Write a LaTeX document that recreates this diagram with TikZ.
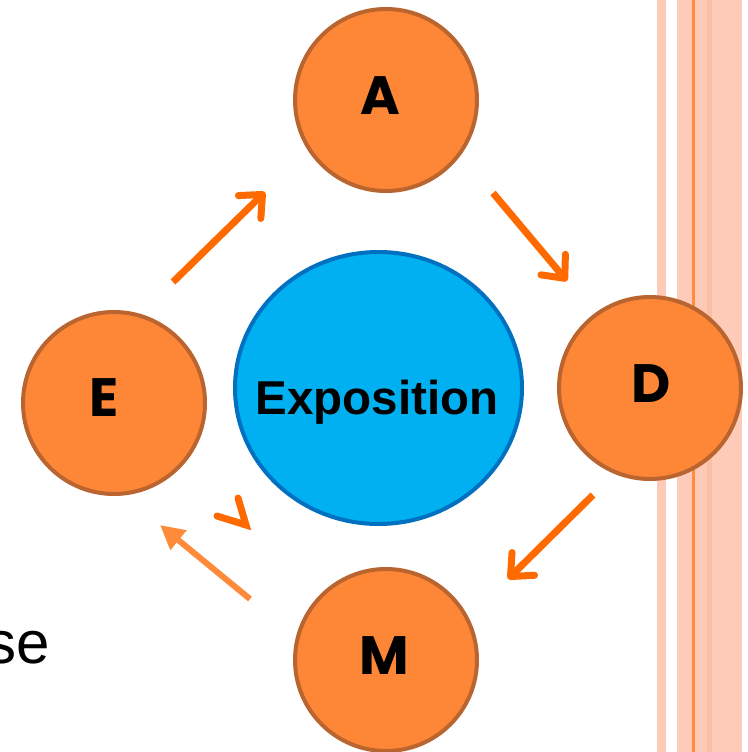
\documentclass[tikz,border=0pt]{standalone}
\usepackage{fontspec}
\setmainfont{Liberation Sans}
\newfontfamily\letterfont{Poppins}
\usetikzlibrary{arrows.meta,shapes.geometric}
\definecolor{orfill}{HTML}{FD8737}
\definecolor{ordraw}{HTML}{BA6430}
\definecolor{blfill}{HTML}{00B0F0}
\definecolor{bldraw}{HTML}{0070C0}
\definecolor{arr}{HTML}{FF6A00}
\definecolor{arrlight}{HTML}{FF8A3A}
\definecolor{stripe}{HTML}{FDCBB8}
\definecolor{stripedark}{HTML}{FBBFA8}
\definecolor{stripeline}{HTML}{FF8C3C}
\tikzset{
  stage/.style={circle, fill=orfill, draw=ordraw, line width=4pt, minimum size=182pt, inner sep=0pt},
  centre/.style={ellipse, fill=blfill, draw=bldraw, line width=4pt, minimum width=287pt, minimum height=272pt, inner sep=0pt},
  lettertext/.style={font=\letterfont\bfseries\fontsize{54}{54}\selectfont, inner sep=0pt},
  flow/.style={draw=arr, line width=7pt, -{Straight Barb[length=18pt,width=32pt,line width=7pt,round]}},
  flowlight/.style={draw=arrlight, line width=6pt, -{Triangle[length=24pt,width=24pt]}},
  chevron/.style={draw=arr, line width=7pt, line cap=round, line join=miter},
}
\begin{document}
\begin{tikzpicture}[x=1pt,y=-1pt]
\useasboundingbox (0,0) rectangle (747,752);
\fill[white] (0,0) rectangle (747,752);
\clip (0,0) rectangle (747,752);
% stripes on the right
\fill[stripe] (657,0) rectangle (666,752);
\fill[stripe] (677,0) rectangle (742,752);
\fill[stripedark] (707,0) rectangle (712,752);
\fill[stripeline] (692,0) rectangle (695,752);
% partial text at left
\node[anchor=base east, font=\fontsize{60}{60}\selectfont, inner sep=0pt] (se) at (50,663) {se};
% nodes
\node[centre] (X) at (378.5,388) {};
\node[anchor=base, font=\fontsize{47.5}{48}\selectfont\bfseries, inner sep=0pt] (Xtxt) at (377,414) {Exposition};
\node[stage] (A) at (386,100) {};
\node[stage] (D) at (650,388) {};
\node[stage] (M) at (386,660) {};
\node[stage] (E) at (114,403) {};
\node[lettertext] (Atxt) at ([shift={(-6,-4)}]A.center) {A};
\node[lettertext] (Dtxt) at ([shift={(1,-4)}]D.center) {D};
\node[lettertext] (Etxt) at ([shift={(-10,-5)}]E.center) {E};
\node[lettertext] (Mtxt) at ([shift={(-2,-4)}]M.center) {M};
% arrow end points
\coordinate (eaS) at (173,282);
\coordinate (eaT) at (265,192);
\coordinate (adS) at (493,193);
\coordinate (adT) at (567,281);
\coordinate (dmS) at (593,495);
\coordinate (dmT) at (508,579);
\coordinate (meS) at (250,599);
\coordinate (meT) at (160,525);
\coordinate (chA) at (217,516);
\coordinate (chV) at (246,525);
\coordinate (chB) at (238,498);
% connectors
\draw[flow] (eaS) -- (eaT);
\draw[flow] (adS) -- (adT);
\draw[flow] (dmS) -- (dmT);
\draw[flowlight] (meS) -- (meT);
\draw[chevron] (chA) -- (chV) -- (chB);
\end{tikzpicture}
\end{document}
